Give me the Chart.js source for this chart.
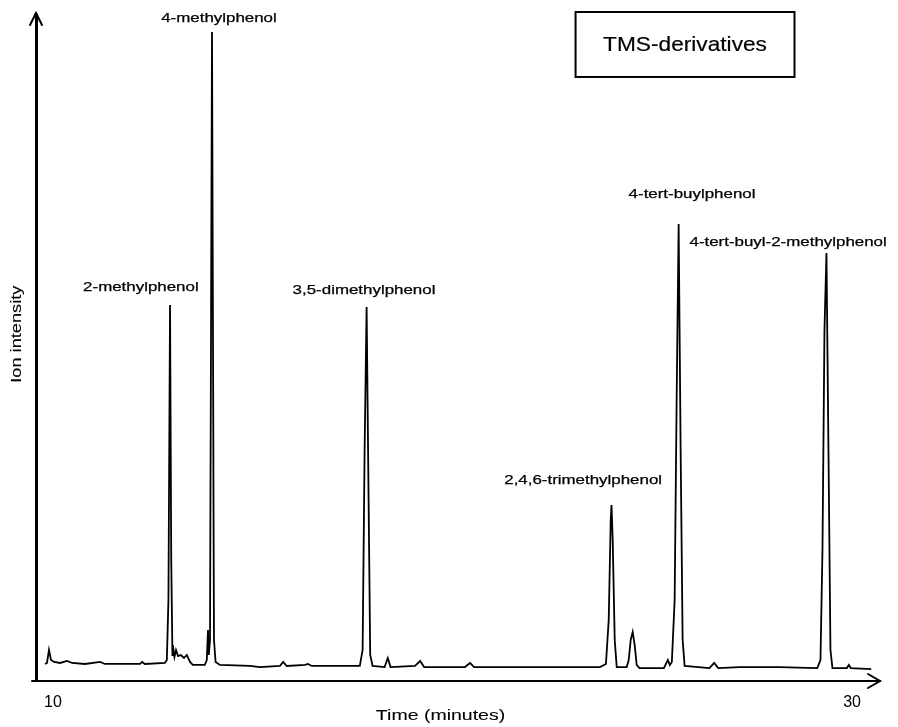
<!DOCTYPE html>
<html>
<head>
<meta charset="utf-8">
<script src="https://cdn.jsdelivr.net/npm/chart.js@4/dist/chart.umd.min.js"></script>
<style>
html,body{margin:0;padding:0;background:#fff;}
#c{display:block;}
</style>
</head>
<body>
<canvas id="c" width="898" height="727" style="width:898px;height:727px"></canvas>
<script>
// Retention time (minutes)
const times = [
  9.80, 9.85, 9.90, 9.95, 10.03, 10.18, 10.35, 10.48, 10.80, 11.18, 11.30,
  12.18, 12.23, 12.30, 12.80, 12.85, 12.89, 12.93, 12.96, 12.99, 13.00, 13.04,
  13.08, 13.13, 13.20, 13.28, 13.35, 13.43, 13.50, 13.80, 13.85, 13.88, 13.90,
  13.93, 13.98, 14.03, 14.07, 14.18, 14.93, 15.18, 15.68, 15.76, 15.85, 16.31,
  16.38, 16.48, 17.68, 17.75, 17.80, 17.85, 17.90, 17.94, 18.00, 18.30, 18.38,
  18.45, 19.06, 19.19, 19.29, 20.31, 20.44, 20.54, 22.19, 23.69, 23.84, 23.91,
  23.96, 23.98, 24.01, 24.06, 24.11, 24.36, 24.41, 24.46, 24.51, 24.56, 24.61,
  24.68, 25.29, 25.39, 25.44, 25.49, 25.56, 25.61, 25.66, 25.71, 25.76, 25.81,
  26.43, 26.55, 26.65, 27.18, 28.18, 29.13, 29.21, 29.26, 29.31, 29.36, 29.41,
  29.46, 29.51, 29.87, 29.92, 29.97, 30.48
];
// Ion intensity (relative units, 0-100)
const intensity = [
  2.41, 2.56, 4.51, 3.01, 2.71, 2.56, 2.86, 2.56, 2.41, 2.71, 2.41,
  2.41, 2.71, 2.41, 2.56, 3.01, 12.03, 56.39, 18.05, 3.76, 5.26, 3.46,
  4.51, 3.61, 3.76, 3.31, 3.76, 2.71, 2.26, 2.26, 3.01, 7.52, 3.76,
  6.02, 97.44, 6.02, 2.71, 2.26, 2.11, 1.95, 2.11, 2.71, 2.11, 2.26,
  2.41, 2.11, 2.11, 4.51, 34.59, 56.09, 27.07, 3.76, 2.11, 1.95, 3.31,
  1.95, 2.11, 2.86, 1.95, 1.95, 2.56, 1.95, 1.95, 1.95, 2.41, 9.02,
  24.06, 26.32, 21.05, 6.02, 1.95, 1.95, 3.01, 6.02, 7.22, 5.26, 2.26,
  1.80, 1.80, 3.01, 2.26, 2.71, 12.03, 42.11, 68.57, 34.59, 6.02, 2.11,
  1.80, 2.56, 1.80, 1.95, 1.95, 1.80, 3.01, 19.55, 52.63, 64.21, 34.59,
  4.51, 1.80, 1.80, 2.26, 1.80, 1.65
];
// Axis tick labels
const xTickValues = [10, 30];
// Peak labels and their anchor positions (time, intensity)
const peakNames = [
  "2-methylphenol", "4-methylphenol", "3,5-dimethylphenol",
  "2,4,6-trimethylphenol", "4-tert-buylphenol", "4-tert-buyl-2-methylphenol"
];
const peakLabelTimes = [12.20, 14.155, 17.785, 23.27, 25.995, 28.40];
const peakLabelLevels = [59.10, 99.55, 58.65, 30.08, 73.08, 65.86];
const boxTitle = "TMS-derivatives";
const xTitle = "Time (minutes)";
const yTitle = "Ion intensity";

const FONT = "'Liberation Sans', Arial, sans-serif";

function stretchedText(ctx, text, x, y, size, sx, rot, weight) {
  ctx.save();
  ctx.translate(x, y);
  if (rot) ctx.rotate(rot);
  ctx.scale(sx, 1);
  ctx.font = size + "px " + FONT;
  ctx.fillStyle = "#000";
  ctx.strokeStyle = "#000";
  ctx.textAlign = "center";
  ctx.textBaseline = "middle";
  ctx.fillText(text, 0, 0);
  if (weight) {
    ctx.lineWidth = weight;
    ctx.strokeText(text, 0, 0);
  }
  ctx.restore();
}

const decor = {
  id: 'decor',
  afterDraw(chart) {
    const ctx = chart.ctx;
    const xs = chart.scales.x, ys = chart.scales.y;
    const ca = chart.chartArea;
    ctx.save();
    ctx.strokeStyle = "#000";
    ctx.lineCap = "round";
    // y-axis arrowhead
    ctx.lineWidth = 2;
    ctx.beginPath();
    ctx.moveTo(ca.left - 6, ca.top + 10);
    ctx.lineTo(ca.left, ca.top - 2);
    ctx.lineTo(ca.left + 6, ca.top + 10);
    ctx.stroke();
    ctx.beginPath();
    ctx.lineWidth = 3;
    ctx.moveTo(ca.left, ca.top + 2);
    ctx.lineTo(ca.left, ca.top - 1);
    ctx.stroke();
    // x-axis extension to the left and arrowhead
    ctx.lineWidth = 2;
    ctx.beginPath();
    ctx.moveTo(ca.left - 4, ca.bottom + 1);
    ctx.lineTo(ca.right, ca.bottom + 1);
    ctx.stroke();
    ctx.beginPath();
    ctx.moveTo(ca.right - 12, ca.bottom - 6);
    ctx.lineTo(ca.right, ca.bottom + 1);
    ctx.lineTo(ca.right - 12, ca.bottom + 8);
    ctx.stroke();
    ctx.restore();

    // peak labels
    for (let i = 0; i < peakNames.length; i++) {
      const px = xs.getPixelForValue(peakLabelTimes[i]);
      const py = ys.getPixelForValue(peakLabelLevels[i]);
      stretchedText(ctx, peakNames[i], px, py, 13, 1.3, 0, 0.25);
    }

    // legend-like box
    const bx1 = xs.getPixelForValue(23.08), bx2 = xs.getPixelForValue(28.56);
    const by1 = ys.getPixelForValue(100.45), by2 = ys.getPixelForValue(90.68);
    ctx.save();
    ctx.strokeStyle = "#000";
    ctx.lineWidth = 2;
    ctx.strokeRect(bx1, by1, bx2 - bx1, by2 - by1);
    ctx.restore();
    stretchedText(ctx, boxTitle, (bx1 + bx2) / 2, (by1 + by2) / 2 + 1, 21, 1.08, 0, 0.2);

    // axis titles
    stretchedText(ctx, xTitle, xs.getPixelForValue(19.7), 716, 15, 1.3, 0, 0.1);
    stretchedText(ctx, yTitle, 17, ys.getPixelForValue(52), 14, 1.3, -Math.PI / 2, 0.1);
  }
};

new Chart(document.getElementById('c'), {
  type: 'line',
  data: {
    datasets: [{
      data: times.map((t, i) => ({ x: t, y: intensity[i] })),
      borderColor: '#000',
      borderWidth: 1.8,
      pointRadius: 0,
      tension: 0,
      fill: false
    }]
  },
  options: {
    responsive: false,
    animation: false,
    devicePixelRatio: 1,
    layout: { padding: { left: 0, top: 15, right: 18, bottom: 0 } },
    plugins: { legend: { display: false }, tooltip: { enabled: false } },
    scales: {
      x: {
        type: 'linear',
        min: 9.575,
        max: 30.7,
        grid: { display: false, drawTicks: false },
        border: { display: false },
        afterBuildTicks: (s) => { s.ticks = xTickValues.map(v => ({ value: v })); },
        afterFit: (s) => { s.height = 47; },
        ticks: {
          color: '#000',
          padding: 13,
          font: { family: FONT, size: 16 },
          maxRotation: 0,
          autoSkip: false
        }
      },
      y: {
        min: 0,
        max: 100,
        grid: { display: false, drawTicks: false },
        border: { display: true, color: '#000', width: 3 },
        ticks: { display: false },
        afterFit: (s) => { s.width = 36; }
      }
    }
  },
  plugins: [decor]
});
</script>
</body>
</html>
